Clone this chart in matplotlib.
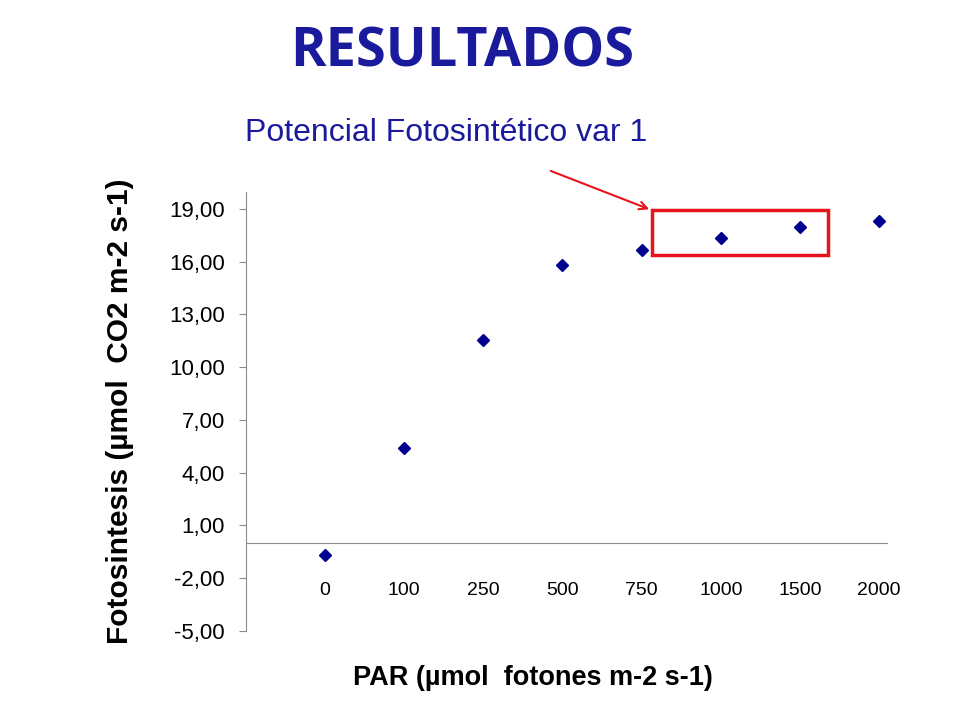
import matplotlib.pyplot as plt
from matplotlib.patches import Rectangle, FancyArrowPatch

# Datos
par = ["0", "100", "250", "500", "750", "1000", "1500", "2000"]
fotosintesis = [-0.69, 5.42, 11.54, 15.81, 16.68, 17.31, 17.99, 18.28]
yticks = [-5, -2, 1, 4, 7, 10, 13, 16, 19]

azul = "#1a1a9c"
gris = "#8c8c8c"

fig = plt.figure(figsize=(9.6, 7.2), dpi=100)
ax = fig.add_axes([0.256, 0.1236, 0.668, 0.6097])

for s in ["top", "right"]:
    ax.spines[s].set_visible(False)
ax.spines["bottom"].set_position(("data", 0))
ax.spines["bottom"].set_color(gris)
ax.spines["left"].set_color(gris)

pos = list(range(1, len(par) + 1))
ax.plot(pos, fotosintesis, linestyle="none", marker="D", markersize=6,
        color="#000090", markeredgecolor="#000090")

ax.set_xlim(0, 8.1)
ax.set_ylim(-5, 19.95)
ax.set_yticks(yticks)
ax.set_yticklabels([f"{v:.2f}".replace(".", ",") for v in yticks],
                   fontsize=16, family="Liberation Sans")
ax.set_xticks(pos)
ax.set_xticklabels(par, fontsize=14, family="Liberation Sans")

ax.tick_params(axis="y", length=5, color=gris, pad=10)
ax.tick_params(axis="x", length=0, pad=28)

ax.set_ylabel("Fotosintesis (µmol  CO2 m-2 s-1)", fontsize=21.5, fontweight="bold",
              family="Liberation Sans", labelpad=25)
fig.text(0.555, 0.058, "PAR (µmol  fotones m-2 s-1)", fontsize=19.5, fontweight="bold",
         family="Liberation Sans", ha="center", va="center")

fig.text(0.481, 0.927, "RESULTADOS", fontsize=39, fontweight="bold",
         family="Open Sans", color=azul, ha="center", va="center")
fig.text(0.465, 0.815, "Potencial Fotosintético var 1", fontsize=23,
         family="Liberation Sans", color=azul, ha="center", va="center")

# recuadro rojo y flecha
ax.add_patch(Rectangle((5.13, 16.36), 2.22, 2.56, fill=False, edgecolor="#e8141c",
                       linewidth=2.5, clip_on=False))
fig.patches.append(FancyArrowPatch((0.571, 0.764), (0.679, 0.708), transform=fig.transFigure,
                                   arrowstyle="->", mutation_scale=14, color="#e8141c",
                                   linewidth=1.5))

fig.savefig("out.png", dpi=100)
